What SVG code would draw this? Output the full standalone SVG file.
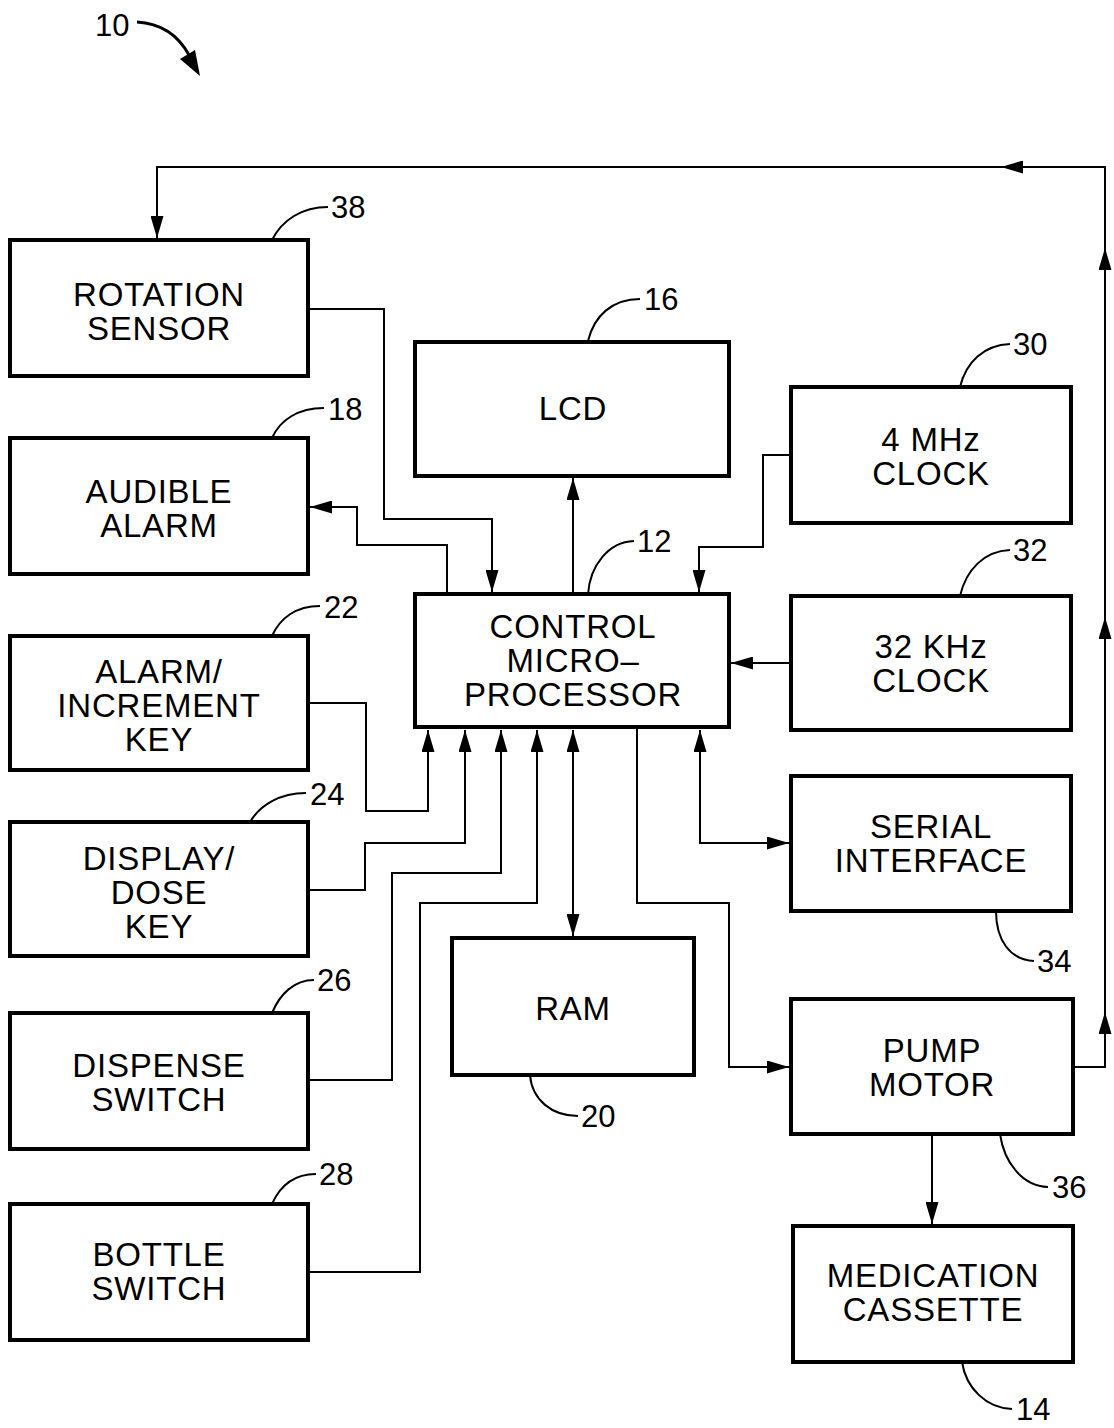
<svg xmlns="http://www.w3.org/2000/svg" width="1114" height="1428" viewBox="0 0 1114 1428">
<defs>
<marker id="ah" viewBox="0 0 22 13" refX="22" refY="6.5" markerWidth="22" markerHeight="13" markerUnits="userSpaceOnUse" orient="auto-start-reverse">
<path d="M0,0 L22,6.5 L0,13 z" fill="#000"/>
</marker>
</defs>
<style>
.box{fill:#fff;stroke:#000;stroke-width:4}
.lbl{font-family:"Liberation Sans",Arial,sans-serif;font-size:33px;letter-spacing:0.8px;text-anchor:middle;fill:#000}
.num{font-family:"Liberation Sans",Arial,sans-serif;font-size:31px;fill:#000}
.ln{fill:none;stroke:#000;stroke-width:2}
.ldr{fill:none;stroke:#000;stroke-width:2}
</style>
<rect width="1114" height="1428" fill="#fff"/>

<g id="ref10">
<text class="num" x="95" y="36">10</text>
<path d="M137,22 Q172,24 189,55" fill="none" stroke="#000" stroke-width="3"/>
<polygon points="200,76 180,59 195,50" fill="#000"/>
</g>

<g id="connectors">
<path class="ln" d="M1073,1067 H1105 V1012" marker-end="url(#ah)"/>
<path class="ln" d="M1105,1012 V617" marker-end="url(#ah)"/>
<path class="ln" d="M1105,617 V248" marker-end="url(#ah)"/>
<path class="ln" d="M1105,248 V167 H1001" marker-end="url(#ah)"/>
<path class="ln" d="M1001,167 H157 V238" marker-end="url(#ah)"/>
<path class="ln" d="M308,309 H384 V519 H492 V592" marker-end="url(#ah)"/>
<path class="ln" d="M447,592 V545 H357 V507 H310" marker-end="url(#ah)"/>
<path class="ln" d="M573,592 V478" marker-end="url(#ah)"/>
<path class="ln" d="M791,455 H763 V547 H699 V592" marker-end="url(#ah)"/>
<path class="ln" d="M791,663 H731" marker-end="url(#ah)"/>
<path class="ln" d="M308,703 H366 V811 H428 V730" marker-end="url(#ah)"/>
<path class="ln" d="M308,890 H365 V843 H465 V730" marker-end="url(#ah)"/>
<path class="ln" d="M308,1080 H392 V873 H501 V730" marker-end="url(#ah)"/>
<path class="ln" d="M308,1272 H420 V903 H537 V730" marker-end="url(#ah)"/>
<path class="ln" d="M573,730 V936" marker-start="url(#ah)" marker-end="url(#ah)"/>
<path class="ln" d="M637,729 V903 H729 V1067 H789" marker-end="url(#ah)"/>
<path class="ln" d="M700,730 V843 H789" marker-start="url(#ah)" marker-end="url(#ah)"/>
<path class="ln" d="M932,1136 V1224" marker-end="url(#ah)"/>
</g>

<g id="rotation-sensor">
<rect class="box" x="10" y="240" width="298" height="136"/>
<text class="lbl" x="159" y="306">ROTATION</text>
<text class="lbl" x="159" y="340">SENSOR</text>
<path class="ldr" d="M272,240 C282,220 302,207 328,207"/>
<text class="num" x="331" y="218">38</text>
</g>

<g id="audible-alarm">
<rect class="box" x="10" y="438" width="298" height="136"/>
<text class="lbl" x="159" y="503">AUDIBLE</text>
<text class="lbl" x="159" y="537">ALARM</text>
<path class="ldr" d="M272,438 C280,420 298,408 324,408"/>
<text class="num" x="328" y="420">18</text>
</g>

<g id="alarm-increment-key">
<rect class="box" x="10" y="636" width="298" height="134"/>
<text class="lbl" x="159" y="683">ALARM/</text>
<text class="lbl" x="159" y="717">INCREMENT</text>
<text class="lbl" x="159" y="751">KEY</text>
<path class="ldr" d="M272,636 C280,618 296,606 320,606"/>
<text class="num" x="324" y="618">22</text>
</g>

<g id="display-dose-key">
<rect class="box" x="10" y="822" width="298" height="134"/>
<text class="lbl" x="159" y="870">DISPLAY/</text>
<text class="lbl" x="159" y="904">DOSE</text>
<text class="lbl" x="159" y="938">KEY</text>
<path class="ldr" d="M250,822 C260,805 280,793 306,793"/>
<text class="num" x="310" y="805">24</text>
</g>

<g id="dispense-switch">
<rect class="box" x="10" y="1013" width="298" height="136"/>
<text class="lbl" x="159" y="1077">DISPENSE</text>
<text class="lbl" x="159" y="1111">SWITCH</text>
<path class="ldr" d="M272,1013 C280,994 294,980 314,980"/>
<text class="num" x="317" y="991">26</text>
</g>

<g id="bottle-switch">
<rect class="box" x="10" y="1204" width="298" height="136"/>
<text class="lbl" x="159" y="1266">BOTTLE</text>
<text class="lbl" x="159" y="1300">SWITCH</text>
<path class="ldr" d="M272,1204 C280,1186 294,1174 316,1174"/>
<text class="num" x="319" y="1185">28</text>
</g>

<g id="lcd">
<rect class="box" x="415" y="342" width="314" height="134"/>
<text class="lbl" x="573" y="420">LCD</text>
<path class="ldr" d="M588,341 C594,316 612,299 640,299"/>
<text class="num" x="644" y="310">16</text>
</g>

<g id="control-microprocessor">
<rect class="box" x="415" y="594" width="314" height="133"/>
<text class="lbl" x="573" y="638">CONTROL</text>
<text class="lbl" x="573" y="672">MICRO–</text>
<text class="lbl" x="573" y="706">PROCESSOR</text>
<path class="ldr" d="M588,594 C590,566 608,542 634,541"/>
<text class="num" x="637" y="552">12</text>
</g>

<g id="clock-4mhz">
<rect class="box" x="791" y="387" width="280" height="136"/>
<text class="lbl" x="931" y="451">4 MHz</text>
<text class="lbl" x="931" y="485">CLOCK</text>
<path class="ldr" d="M960,387 C966,362 984,345 1010,344"/>
<text class="num" x="1013" y="355">30</text>
</g>

<g id="clock-32khz">
<rect class="box" x="791" y="596" width="280" height="134"/>
<text class="lbl" x="931" y="658">32 KHz</text>
<text class="lbl" x="931" y="692">CLOCK</text>
<path class="ldr" d="M960,596 C966,570 984,551 1010,550"/>
<text class="num" x="1013" y="561">32</text>
</g>

<g id="serial-interface">
<rect class="box" x="791" y="776" width="280" height="135"/>
<text class="lbl" x="931" y="838">SERIAL</text>
<text class="lbl" x="931" y="872">INTERFACE</text>
<path class="ldr" d="M996,911 C996,940 1010,960 1034,961"/>
<text class="num" x="1037" y="972">34</text>
</g>

<g id="ram">
<rect class="box" x="452" y="938" width="242" height="137"/>
<text class="lbl" x="573" y="1020">RAM</text>
<path class="ldr" d="M530,1075 C532,1100 552,1116 578,1116"/>
<text class="num" x="581" y="1127">20</text>
</g>

<g id="pump-motor">
<rect class="box" x="791" y="999" width="282" height="135"/>
<text class="lbl" x="932" y="1062">PUMP</text>
<text class="lbl" x="932" y="1096">MOTOR</text>
<path class="ldr" d="M1000,1134 C1004,1162 1022,1186 1048,1187"/>
<text class="num" x="1052" y="1198">36</text>
</g>

<g id="medication-cassette">
<rect class="box" x="793" y="1226" width="280" height="136"/>
<text class="lbl" x="933" y="1287">MEDICATION</text>
<text class="lbl" x="933" y="1321">CASSETTE</text>
<path class="ldr" d="M962,1362 C966,1388 986,1408 1012,1409">
</path>
<text class="num" x="1016" y="1420">14</text>
</g>
</svg>
